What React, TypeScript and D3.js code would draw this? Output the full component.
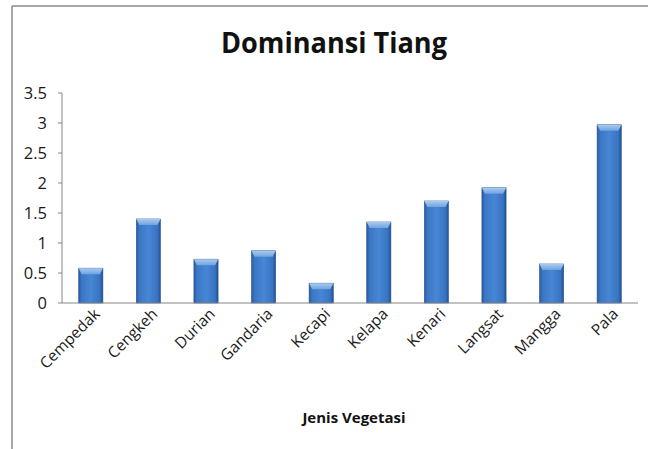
import React from "react";
import * as d3 from "d3";

const categories = ["Cempedak", "Cengkeh", "Durian", "Gandaria", "Kecapi", "Kelapa", "Kenari", "Langsat", "Mangga", "Pala"];
const values = [0.58, 1.4, 0.73, 0.87, 0.33, 1.35, 1.7, 1.92, 0.65, 2.97];
const yTicks = [0, 0.5, 1, 1.5, 2, 2.5, 3, 3.5];
const title = "Dominansi Tiang";
const xTitle = "Jenis Vegetasi";

const W = 648;
const H = 449;
const M = { left: 62, right: 10, top: 93, bottom: 146 };
const FONT = "'Open Sans', 'Noto Sans', sans-serif";

export default function App() {
  const x = d3.scaleBand<string>().domain(categories).range([M.left, W - M.right]).paddingInner(0.58).paddingOuter(0.29);
  const y = d3.scaleLinear().domain([0, 3.5]).range([H - M.bottom, M.top]);
  const y0 = y(0);
  const bw = x.bandwidth();
  const bev = 6;
  return (
    <svg width={W} height={H} style={{ position: "absolute", left: 0, top: 0, background: "#fff" }}>
      <defs>
        <linearGradient id="barG" x1="0" x2="1" y1="0" y2="0">
          <stop offset="0%" stopColor="#2a5a9c" />
          <stop offset="12%" stopColor="#3b76c4" />
          <stop offset="50%" stopColor="#4787d6" />
          <stop offset="88%" stopColor="#3873c0" />
          <stop offset="100%" stopColor="#22508e" />
        </linearGradient>
        <linearGradient id="capG" x1="0" x2="0" y1="0" y2="1">
          <stop offset="0%" stopColor="#a9cbf0" />
          <stop offset="100%" stopColor="#6fa3e0" />
        </linearGradient>
      </defs>
      <line x1={12} y1={6} x2={W} y2={6} stroke="#8a8a8a" strokeWidth={1.5} />
      <line x1={12} y1={6} x2={12} y2={H} stroke="#8a8a8a" strokeWidth={1.5} />
      <text x={334} y={53} textAnchor="middle" fontFamily={FONT} fontWeight="bold" fontSize={28} fill="#111" textLength={226} lengthAdjust="spacingAndGlyphs">
        {title}
      </text>
      {yTicks.map((t) => (
        <g key={t}>
          <line x1={M.left - 4} x2={M.left} y1={y(t)} y2={y(t)} stroke="#868686" />
          <text x={M.left - 15} y={y(t)} dy="0.35em" textAnchor="end" fontFamily={FONT} fontSize={16.5} fill="#1a1a1a">
            {t}
          </text>
        </g>
      ))}
      <line x1={M.left} x2={M.left} y1={y(3.5)} y2={y0} stroke="#868686" />
      {categories.map((c, i) => {
        const bx = x(c)!;
        const by = y(values[i]);
        const cap = `M${bx},${by} L${bx + bw},${by} L${bx + bw - 3},${by + bev} L${bx + 3},${by + bev} Z`;
        return (
          <g key={c}>
            <rect x={bx} y={by} width={bw} height={y0 - by} fill="url(#barG)" stroke="#2a5590" strokeWidth={0.6} />
            <path d={cap} fill="url(#capG)" />
          </g>
        );
      })}
      <line x1={M.left} x2={W - M.right} y1={y0} y2={y0} stroke="#868686" />
      {categories.map((c) => {
        const cx = x(c)! + bw / 2 + 10;
        const ty = y0 + 12;
        return (
          <text key={c} x={cx} y={ty} textAnchor="end" fontFamily={FONT} fontSize={15.5} fill="#1a1a1a" transform={`rotate(-45, ${cx}, ${ty})`}>
            {c}
          </text>
        );
      })}
      <text x={354} y={423} textAnchor="middle" fontFamily={FONT} fontWeight="bold" fontSize={15} fill="#111">
        {xTitle}
      </text>
    </svg>
  );
}
